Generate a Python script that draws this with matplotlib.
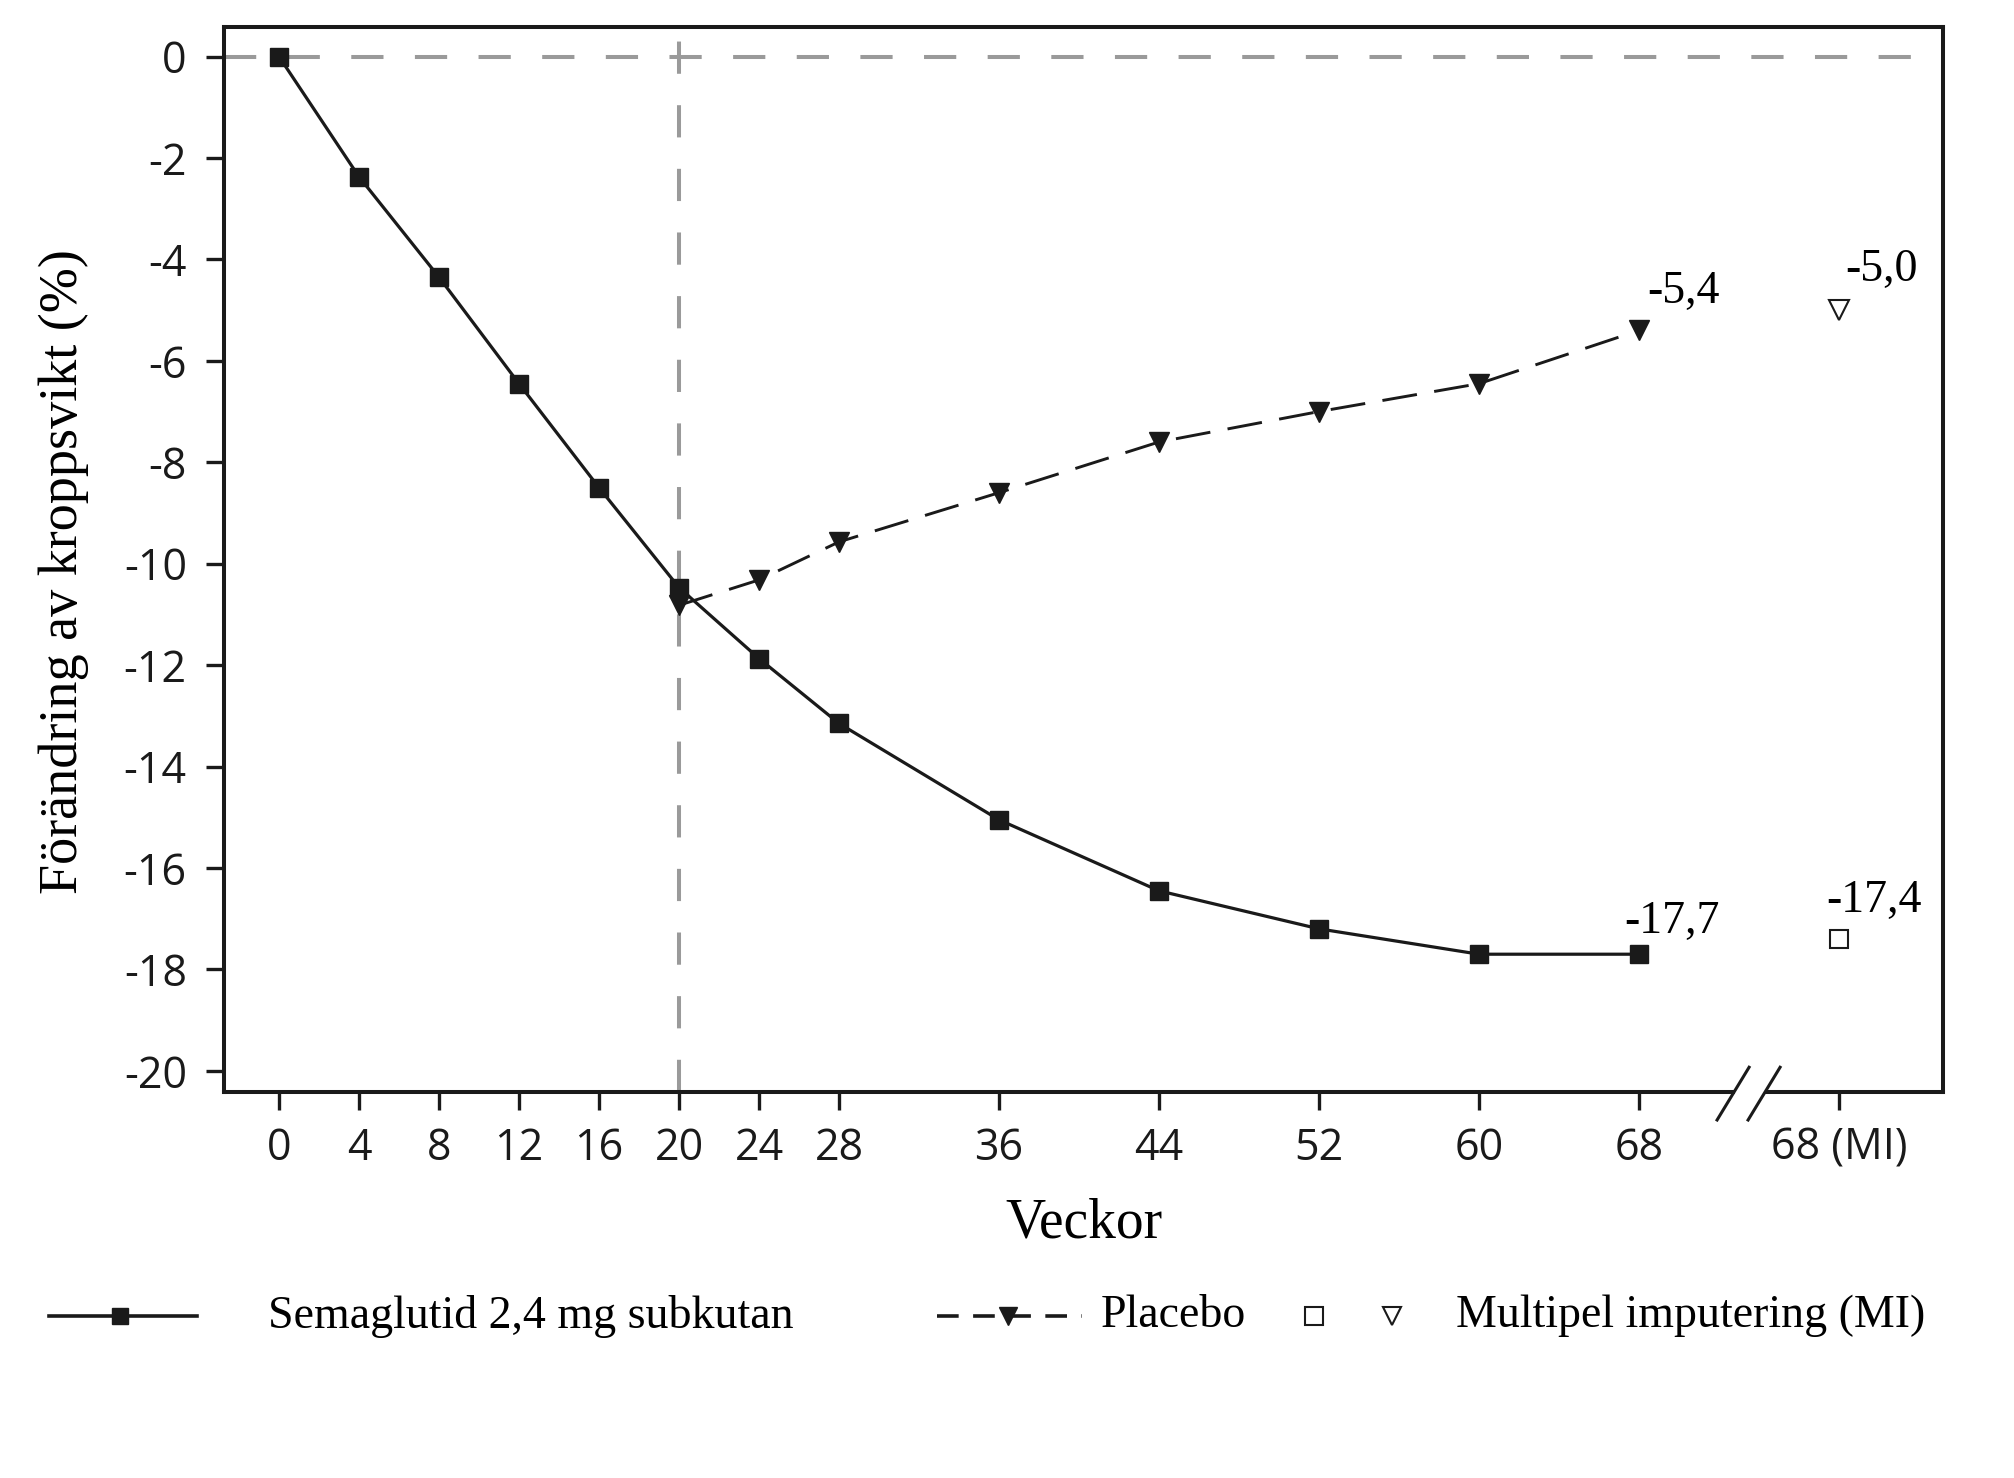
import matplotlib.pyplot as plt
from matplotlib.lines import Line2D

# data
weeks = [0, 4, 8, 12, 16, 20, 24, 28, 36, 44, 52, 60, 68]
sema = [0, -2.37, -4.35, -6.45, -8.5, -10.47, -11.87, -13.15, -15.05, -16.45, -17.2, -17.7, -17.7]
placebo_weeks = [20, 24, 28, 36, 44, 52, 60, 68]
placebo = [-10.82, -10.32, -9.57, -8.6, -7.6, -7.0, -6.45, -5.4]
mi_pos = 78
mi_sema = -17.4
mi_placebo = -5.0
yticks = [0, -2, -4, -6, -8, -10, -12, -14, -16, -18, -20]
xtick_labels = [str(w) for w in weeks] + ['68 (MI)']

serif = 'Liberation Serif'
sans = 'Open Sans'
ink = '#1a1a1a'
grey = '#9a9a9a'

fig = plt.figure(figsize=(20.14, 14.78), dpi=100)
ax = fig.add_axes([0.1114, 0.2614, 0.8534, 0.7206])
ax.set_xlim(-2.73, 83.2)
ax.set_ylim(-20.41, 0.59)

# reference lines
ax.axhline(0, color=grey, lw=2.9, ls=(0, (8, 7.8)), zorder=1)
ax.axvline(20, color=grey, lw=2.9, ls=(0, (8, 7.8)), zorder=1)

ax.plot(weeks, sema, color=ink, lw=2.3, marker='s', ms=13.5, zorder=3)
ax.plot(placebo_weeks, placebo, color=ink, lw=2.1, ls=(0, (12, 6)),
        marker='v', ms=14, zorder=3)
ax.plot([mi_pos], [mi_sema], ls='none', marker='s', ms=13.5,
        mfc='white', mec=ink, mew=1.5, zorder=3)
ax.plot([mi_pos], [mi_placebo], ls='none', marker='v', ms=15,
        mfc='white', mec=ink, mew=1.5, zorder=3)

def lab(v):
    return '{:.1f}'.format(v).replace('.', ',')

ax.annotate(lab(placebo[-1]), (placebo_weeks[-1], placebo[-1]), xytext=(5.8, 19.8),
            textcoords='offset points', ha='left', va='baseline', fontsize=33, family=serif)
ax.annotate(lab(mi_placebo), (mi_pos, mi_placebo), xytext=(4.5, 21),
            textcoords='offset points', ha='left', va='baseline', fontsize=33, family=serif)
ax.annotate(lab(sema[-1]), (weeks[-1], sema[-1]), xytext=(-10.8, 15.4),
            textcoords='offset points', ha='left', va='baseline', fontsize=33, family=serif)
ax.annotate(lab(mi_sema), (mi_pos, mi_sema), xytext=(-9.4, 19.4),
            textcoords='offset points', ha='left', va='baseline', fontsize=33, family=serif)

# axes frame with a broken bottom spine
for s in ['top', 'left', 'right']:
    ax.spines[s].set_linewidth(2.9)
    ax.spines[s].set_color(ink)
ax.spines['bottom'].set_visible(False)
xt = ax.get_xaxis_transform()
ax.plot([-2.73, 72.7], [0, 0], transform=xt, color=ink, lw=2.9,
        solid_capstyle='projecting', clip_on=False)
ax.plot([74.4, 83.2], [0, 0], transform=xt, color=ink, lw=2.9,
        solid_capstyle='projecting', clip_on=False)
ax.plot([71.9, 73.5], [-0.0266, 0.0229], transform=xt, color=ink, lw=2.2, clip_on=False)
ax.plot([73.45, 75.05], [-0.0266, 0.0229], transform=xt, color=ink, lw=2.2, clip_on=False)

ax.set_xticks(weeks + [mi_pos])
ax.set_xticklabels(xtick_labels)
ax.set_yticks(yticks)
ax.set_yticklabels([str(t) for t in yticks])
ax.tick_params(axis='both', direction='out', length=13, width=2.4, color=ink,
               labelsize=31, labelcolor=ink)
ax.tick_params(axis='x', pad=12)
ax.tick_params(axis='y', pad=14)
for t in ax.get_xticklabels() + ax.get_yticklabels():
    t.set_family(sans)

ax.set_xlabel('Veckor', fontsize=40, family=serif, va='center')
ax.xaxis.set_label_coords(0.5, -0.1242)
ax.set_ylabel('Förändring av kroppsvikt (%)', fontsize=39, family=serif, va='center')
ax.yaxis.set_label_coords(-0.0933, 0.488)

# legend drawn along the bottom
leg = fig.add_axes([0, 0, 1, 1])
leg.set_xlim(0, 2014)
leg.set_ylim(1478, 0)
leg.axis('off')
ly = 1316
leg.add_line(Line2D([49, 197], [ly, ly], color=ink, lw=2.6))
leg.add_line(Line2D([120], [ly], marker='s', ms=12, color=ink))
leg.text(268, ly, 'Semaglutid 2,4 mg subkutan', fontsize=33, family=serif, va='center')
leg.add_line(Line2D([937, 1082], [ly, ly], color=ink, lw=2.6, ls=(0, (6, 4))))
leg.add_line(Line2D([1008], [ly], marker='v', ms=13, color=ink))
leg.text(1101, ly, 'Placebo', fontsize=33, family=serif, va='center')
leg.add_line(Line2D([1314], [ly], marker='s', ms=13, mfc='white', mec=ink, mew=1.5))
leg.add_line(Line2D([1392], [ly], marker='v', ms=13, mfc='white', mec=ink, mew=1.5))
leg.text(1456, ly, 'Multipel imputering (MI)', fontsize=33, family=serif, va='center')

fig.savefig('out.png', dpi=100)
